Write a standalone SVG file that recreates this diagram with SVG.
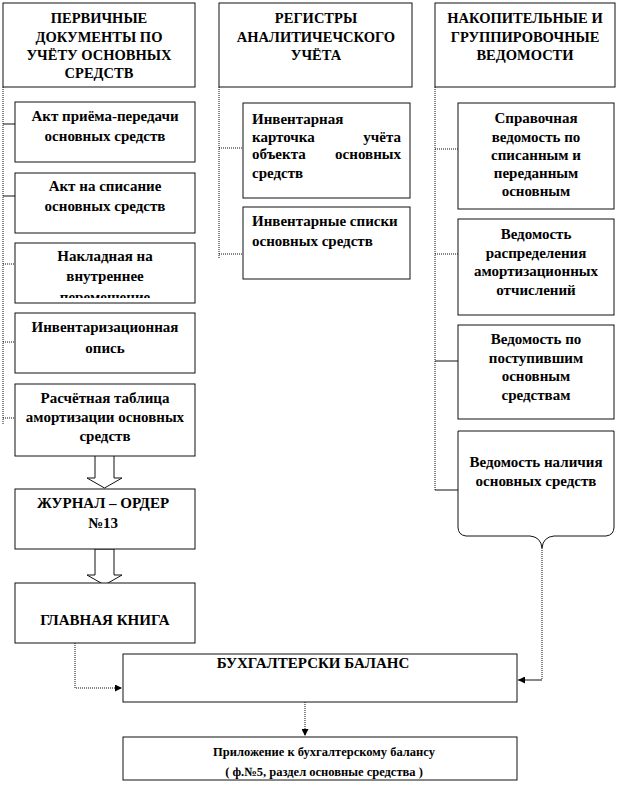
<svg xmlns="http://www.w3.org/2000/svg" width="618" height="787" viewBox="0 0 618 787">
<style>
.box{fill:#fff;stroke:#111;stroke-width:1}
.con{fill:none;stroke:#111;stroke-width:1;stroke-dasharray:1 1}
.solid{fill:none;stroke:#111;stroke-width:1}
text{font-family:'Liberation Serif','Times New Roman',serif;font-weight:700;fill:#000}
.h{font-size:14.5px;text-anchor:middle}
.t{font-size:15px;text-anchor:middle}
.l{font-size:15px}
.s{font-size:12.5px;text-anchor:middle}
</style>
<defs>
<marker id="ah" viewBox="0 0 10 10" refX="10" refY="5" markerWidth="7" markerHeight="7" orient="auto" markerUnits="userSpaceOnUse"><path d="M0,0 L10,5 L0,10 z" fill="#000"/></marker>
<clipPath id="clipC"><rect x="15" y="243" width="180" height="55"/></clipPath>
</defs>

<g id="connectors">
<path class="con" d="M3,87 V425"/>
<path class="solid" d="M3,124 H15"/>
<path class="solid" d="M3,196 H15"/>
<path class="con" d="M3,264 H15"/>
<path class="con" d="M3,342 H15"/>
<path class="con" d="M3,418 H15"/>
<path class="con" d="M219,87 V258"/>
<path class="con" d="M219,148 H243"/>
<path class="con" d="M219,254 H243"/>
<path class="con" d="M435,87 V490"/>
<path class="con" d="M435,149 H458"/>
<path class="con" d="M435,254 H458"/>
<path class="solid" d="M435,361 H458"/>
<path class="solid" d="M435,490 H458"/>
<path class="con" d="M542,548 V680"/>
<path class="solid" d="M542,680 H518" marker-end="url(#ah)"/>
<path class="con" d="M75,643 V688 H122" marker-end="url(#ah)"/>
<path class="con" d="M305,702 V736" marker-end="url(#ah)"/>
<polygon class="box" points="95,455 114,455 114,478 122,478 104.5,488 87,478 95,478"/>
<polygon class="box" points="95,549 114,549 114,575 122,575 104.5,585 87,575 95,575"/>
</g>

<g id="h1"><rect class="box" x="3" y="3" width="192" height="84"/>
<text class="h" x="99" y="23">ПЕРВИЧНЫЕ</text>
<text class="h" x="99" y="42">ДОКУМЕНТЫ ПО</text>
<text class="h" x="99" y="60">УЧЁТУ ОСНОВНЫХ</text>
<text class="h" x="99" y="78">СРЕДСТВ</text></g>

<g id="h2"><rect class="box" x="219" y="3" width="193" height="84"/>
<text class="h" x="316" y="23">РЕГИСТРЫ</text>
<text class="h" x="316" y="42">АНАЛИТИЧЕЧСКОГО</text>
<text class="h" x="316" y="60">УЧЁТА</text></g>

<g id="h3"><rect class="box" x="435" y="3" width="180" height="84"/>
<text class="h" x="525" y="23">НАКОПИТЕЛЬНЫЕ И</text>
<text class="h" x="525" y="42">ГРУППИРОВОЧНЫЕ</text>
<text class="h" x="525" y="60">ВЕДОМОСТИ</text></g>

<g id="a1"><rect class="box" x="15" y="102" width="180" height="60"/>
<text class="t" x="105" y="121">Акт приёма-передачи</text>
<text class="t" x="105" y="141">основных средств</text></g>

<g id="a2"><rect class="box" x="15" y="173" width="180" height="60"/>
<text class="t" x="105" y="191">Акт на списание</text>
<text class="t" x="105" y="211">основных средств</text></g>

<g id="a3"><rect class="box" x="15" y="243" width="180" height="60"/>
<g clip-path="url(#clipC)">
<text class="t" x="105" y="261">Накладная на</text>
<text class="t" x="105" y="281">внутреннее</text>
<text class="t" x="105" y="302">перемещение</text></g></g>

<g id="a4"><rect class="box" x="15" y="313" width="180" height="60"/>
<text class="t" x="105" y="332">Инвентаризационная</text>
<text class="t" x="105" y="353">опись</text></g>

<g id="a5"><rect class="box" x="15" y="384" width="180" height="72"/>
<text class="t" x="105" y="403">Расчётная таблица</text>
<text class="t" x="105" y="422">амортизации основных</text>
<text class="t" x="105" y="441">средств</text></g>

<g id="b1"><rect class="box" x="243" y="103" width="167" height="95"/>
<text class="l" x="252" y="124">Инвентарная</text>
<text class="l" x="252" y="142">карточка</text><text class="l" x="401" y="142" text-anchor="end">учёта</text>
<text class="l" x="252" y="159">объекта</text><text class="l" x="401" y="159" text-anchor="end">основных</text>
<text class="l" x="252" y="178">средств</text></g>

<g id="b2"><rect class="box" x="243" y="207" width="167" height="72"/>
<text class="l" x="252" y="226">Инвентарные  списки</text>
<text class="l" x="252" y="246">основных средств</text></g>

<g id="c1"><rect class="box" x="458" y="103" width="156" height="106"/>
<text class="t" x="536" y="123">Справочная</text>
<text class="t" x="536" y="142">ведомость по</text>
<text class="t" x="536" y="160">списанным и</text>
<text class="t" x="536" y="178">переданным</text>
<text class="t" x="536" y="196">основным</text></g>

<g id="c2"><rect class="box" x="458" y="219" width="156" height="96"/>
<text class="t" x="536" y="239">Ведомость</text>
<text class="t" x="536" y="258">распределения</text>
<text class="t" x="536" y="276">амортизационных</text>
<text class="t" x="536" y="295">отчислений</text></g>

<g id="c3"><rect class="box" x="458" y="325" width="156" height="94"/>
<text class="t" x="536" y="344">Ведомость по</text>
<text class="t" x="536" y="363">поступившим</text>
<text class="t" x="536" y="381">основным</text>
<text class="t" x="536" y="400">средствам</text></g>

<g id="c4"><path class="box" d="M458,431 H614 V527 Q614,535 606,536 H554 Q543,537 542,548 Q541,537 530,536 H466 Q458,535 458,527 Z"/>
<text class="t" x="536" y="467">Ведомость наличия</text>
<text class="t" x="536" y="486">основных средств</text></g>

<g id="journal"><rect class="box" x="15" y="489" width="180" height="60"/>
<text class="t" x="103" y="508">ЖУРНАЛ – ОРДЕР</text>
<text class="t" x="103" y="528">№13</text></g>

<g id="ledger"><rect class="box" x="15" y="583" width="180" height="60"/>
<text class="t" x="105" y="625">ГЛАВНАЯ КНИГА</text></g>

<g id="balance"><rect class="box" x="123" y="654" width="394" height="48"/>
<text class="t" x="313" y="668">БУХГАЛТЕРСКИ  БАЛАНС</text></g>

<g id="appendix"><rect class="box" x="123" y="737" width="394" height="43"/>
<text class="s" x="324" y="756">Приложение к бухгалтерскому  балансу</text>
<text class="s" x="324" y="776">( ф.№5, раздел основные средства )</text></g>
</svg>
